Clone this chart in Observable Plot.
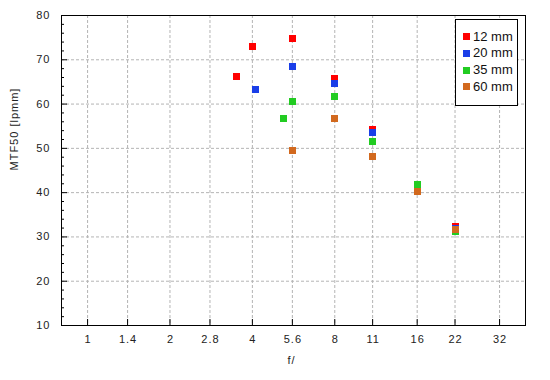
<!DOCTYPE html>
<html><head><meta charset="utf-8">
<script src="https://cdn.jsdelivr.net/npm/d3@7"></script>
<script src="https://cdn.jsdelivr.net/npm/@observablehq/plot@0.6"></script>
<style>
body{margin:0;background:#fff;font-family:"Liberation Sans",Arial,sans-serif;}
#wrap{position:relative;width:550px;height:380px;}
#legend{position:absolute;left:455px;top:19px;width:61px;height:85px;border:1px solid #000;background:#fff;}
.item{position:absolute;left:7px;height:14px;font-size:13px;line-height:14px;color:#111;display:flex;align-items:center;white-space:nowrap;}
.sw{width:7px;height:7px;margin-right:3px;}
</style></head><body><div id="wrap"></div>
<script>
const seriesNames = ["12 mm", "20 mm", "35 mm", "60 mm"];
const seriesColors = ["#ff0000", "#1a3ee8", "#22cc22", "#d2691e"];

const aperture12 = [3.5, 4, 5.6, 8, 11, 16, 22];
const mtf12 = [66.3, 73.1, 74.7, 65.8, 54.3, 41.8, 32.3];
const aperture20 = [4.1, 5.6, 8, 11, 16, 22];
const mtf20 = [63.3, 68.5, 64.7, 53.5, 41.6, 32.0];
const aperture35 = [5.2, 5.6, 8, 11, 16, 22];
const mtf35 = [56.8, 60.6, 61.75, 51.6, 41.8, 31.3];
const aperture60 = [5.6, 8, 11, 16, 22];
const mtf60 = [49.5, 56.8, 48.2, 40.3, 31.65];

const xTickValues = [1, 1.4, 2, 2.8, 4, 5.6, 8, 11, 16, 22, 32];
const xTickLabels = ["1", "1.4", "2", "2.8", "4", "5.6", "8", "11", "16", "22", "32"];
const yTickValues = [10, 20, 30, 40, 50, 60, 70, 80];
const yMinorTicks = d3.range(10, 81, 2).filter(v => v % 10 !== 0);

const apertures = [aperture12, aperture20, aperture35, aperture60];
const mtfs = [mtf12, mtf20, mtf35, mtf60];
const points = [];
seriesNames.forEach((s, k) => apertures[k].forEach((f, i) => points.push({series: s, f, mtf: mtfs[k][i]})));

const xTicks = xTickValues.map((v, i) => ({v, label: xTickLabels[i]}));

const W = 550, H = 380, mL = 61, mR = 25, mT = 15, mB = 55;
const innerW = W - mL - mR, innerH = H - mT - mB;
const gridStyle = {stroke: "#b4b4b4", strokeDasharray: "3,2"};

const chart = Plot.plot({
  width: W, height: H,
  marginLeft: mL, marginRight: mR, marginTop: mT, marginBottom: mB,
  style: {fontFamily: "'Liberation Sans', Arial, sans-serif", fontSize: "11px", color: "#222", background: "#fff", letterSpacing: "1px"},
  x: {type: "log", domain: [0.803, 39.8], axis: null},
  y: {domain: [10, 80]},
  color: {domain: seriesNames, range: seriesColors},
  marks: [
    Plot.ruleX(xTickValues, gridStyle),
    Plot.ruleY(yTickValues.slice(1, -1), gridStyle),
    Plot.ruleX(xTickValues, {stroke: "#000", insetTop: innerH - 6}),
    Plot.ruleY(yTickValues, {stroke: "#000", insetRight: innerW - 6}),
    Plot.ruleY(yMinorTicks, {stroke: "#000", insetRight: innerW - 3}),
    Plot.text(xTicks, {x: "v", text: "label", frameAnchor: "bottom", dy: 17.5, dx: 0.5}),
    Plot.axisY(yTickValues, {tickSize: 0, tickPadding: 11, label: null}),
    Plot.dot(points, {x: "f", y: "mtf", fill: "series", symbol: "square", r: 3.95, shapeRendering: "crispEdges"}),
    Plot.frame({stroke: "#000"}),
    Plot.text(["MTF50 [lpmm]"], {frameAnchor: "left", dx: -47, rotate: -90, text: d => d}),
    Plot.text(["f/"], {frameAnchor: "bottom", dy: 38, dx: -2, text: d => d})
  ]
});
const wrap = document.getElementById("wrap");
wrap.appendChild(chart);

const legend = document.createElement("div");
legend.id = "legend";
const tops = [9.7, 26.4, 43, 59.7];
seriesNames.forEach((s, i) => {
  const it = document.createElement("div");
  it.className = "item";
  it.style.top = tops[i] + "px";
  const sw = document.createElement("span");
  sw.className = "sw";
  sw.style.background = seriesColors[i];
  it.appendChild(sw);
  it.appendChild(document.createTextNode(s));
  legend.appendChild(it);
});
wrap.appendChild(legend);
</script></body></html>
